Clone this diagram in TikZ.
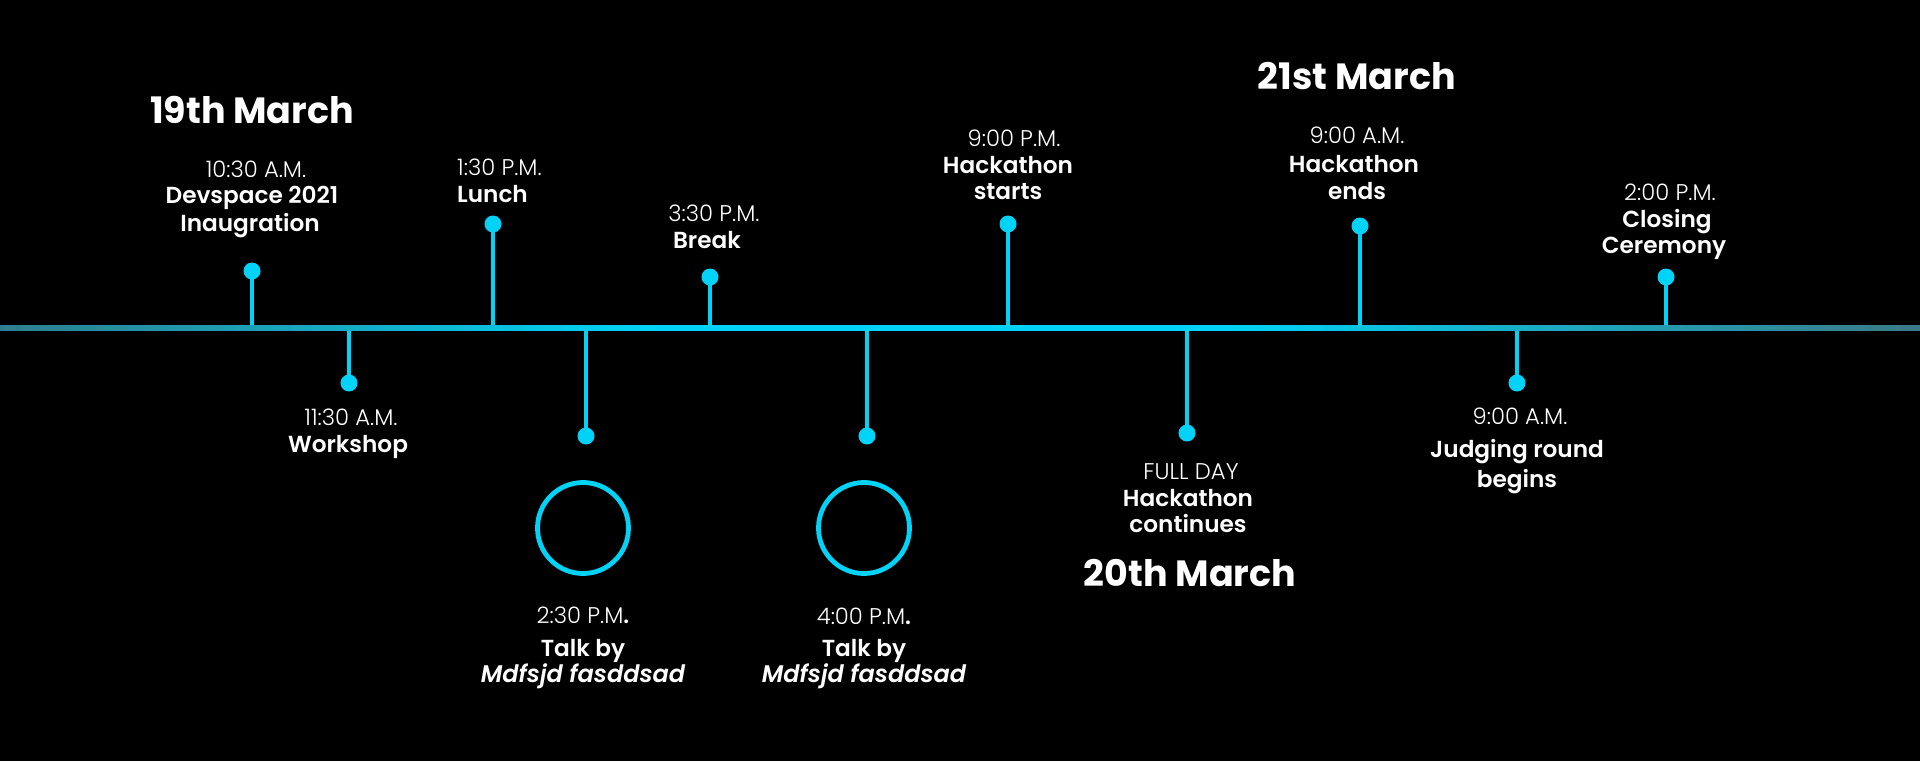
\documentclass[tikz,border=0pt]{standalone}
\usepackage{fontspec}
\newfontfamily\plight{Poppins Light}
\newfontfamily\psemi{Poppins SemiBold}[ItalicFont={Poppins SemiBold Italic}]
\newfontfamily\pbold{Poppins Bold}
\definecolor{cy}{HTML}{00D3F7}
\definecolor{tla}{HTML}{2D7F8E}
\definecolor{tlb}{HTML}{3A7A86}
\pgfdeclarehorizontalshading{tlshade}{100bp}{color(0bp)=(tla); color(25bp)=(tla); color(42bp)=(cy); color(57bp)=(cy); color(75bp)=(tlb); color(100bp)=(tlb)}
\tikzset{
  tm/.style={text=white, font=\plight\fontsize{22.7}{25}\selectfont, anchor=base, inner sep=0pt},
  ttl/.style={text=white, font=\psemi\fontsize{23.2}{26}\selectfont, anchor=base, inner sep=0pt},
  itl/.style={text=white, font=\psemi\itshape\fontsize{24}{26}\selectfont, anchor=base, inner sep=0pt},
  hd/.style={text=white, font=\pbold\fontsize{36.5}{40}\selectfont, anchor=base, inner sep=0pt},
  stemline/.style={draw=cy, line width=4.5pt},
  dotc/.style={circle, fill=cy, minimum size=17pt, inner sep=0pt},
  ring/.style={circle, draw=cy, line width=4.8pt, minimum size=91pt, inner sep=0pt},
}
\begin{document}
\begin{tikzpicture}[x=1pt, y=-1pt]
\fill[black] (0,0) rectangle (1920,761);
\useasboundingbox (0,0) rectangle (1920,761);

% stems (base coordinates on the line)
\coordinate (b1) at (252,328);
\coordinate (b2) at (349,328);
\coordinate (b3) at (493,328);
\coordinate (b4) at (586,328);
\coordinate (b5) at (710,328);
\coordinate (b6) at (867,328);
\coordinate (b7) at (1008,328);
\coordinate (b8) at (1187,328);
\coordinate (b9) at (1360,328);
\coordinate (b10) at (1517,328);
\coordinate (b11) at (1666,328);

\node[dotc] (d1) at (252,271) {};
\node[dotc] (d2) at (349,383) {};
\node[dotc] (d3) at (493,224) {};
\node[dotc] (d4) at (586,436) {};
\node[dotc] (d5) at (710,277) {};
\node[dotc] (d6) at (867,436) {};
\node[dotc] (d7) at (1008,224) {};
\node[dotc] (d8) at (1187,433) {};
\node[dotc] (d9) at (1360,226) {};
\node[dotc] (d10) at (1517,383) {};
\node[dotc] (d11) at (1666,277) {};

\foreach \i in {1,...,11} {\draw[stemline] (b\i) -- (d\i.center);}

% main line
\shade[shading=tlshade] (0,325.5) rectangle (1920,330.5);

% rings
\node[ring] (c1) at (583,528) {};
\node[ring] (c2) at (864,528) {};

% headings
\node[hd] (h19) at (252,123) {19th March};
\node[hd] (h20) at (1190,586) {20th March};
\node[hd] (h21) at (1357,89) {21st March};

% 1 Devspace
\node[tm] (t1) at (256,177) {10:30 A.M.};
\node[ttl] (l1a) at (252,203) {Devspace 2021};
\node[ttl] (l1b) at (250,231) {Inaugration};
% 2 Workshop
\node[tm] (t2) at (351,425) {11:30 A.M.};
\node[ttl] (l2a) at (348,452) {Workshop};
% 3 Lunch
\node[tm, anchor=base west] (t3) at (457,175) {1:30 P.M.};
\node[ttl, anchor=base west] (l3a) at (457,202) {Lunch};
% 4 Talk 1
\node[tm] (t4) at (583,623) {2:30 P.M{\psemi .}};
\node[ttl] (l4a) at (583,656) {Talk by};
\node[itl] (l4b) at (583,682) {Mdfsjd fasddsad};
% 5 Break
\node[tm] (t5) at (714,221) {3:30 P.M.};
\node[ttl] (l5a) at (707,248) {Break};
% 6 Talk 2
\node[tm] (t6) at (864,624) {4:00 P.M{\psemi .}};
\node[ttl] (l6a) at (864,656) {Talk by};
\node[itl] (l6b) at (864,682) {Mdfsjd fasddsad};
% 7 Hackathon starts
\node[tm] (t7) at (1014,146) {9:00 P.M.};
\node[ttl] (l7a) at (1008,173) {Hackathon};
\node[ttl] (l7b) at (1008,199) {starts};
% 8 Hackathon continues
\node[tm] (t8) at (1191,479) {FULL DAY};
\node[ttl] (l8a) at (1188,506) {Hackathon};
\node[ttl] (l8b) at (1188,532) {continues};
% 9 Hackathon ends
\node[tm] (t9) at (1357,143) {9:00 A.M.};
\node[ttl] (l9a) at (1354,172) {Hackathon};
\node[ttl] (l9b) at (1357,199) {ends};
% 10 Judging
\node[tm] (t10) at (1520,424) {9:00 A.M.};
\node[ttl] (l10a) at (1517,457) {Judging round};
\node[ttl] (l10b) at (1517,487) {begins};
% 11 Closing
\node[tm] (t11) at (1670,200) {2:00 P.M.};
\node[ttl] (l11a) at (1667,227) {Closing};
\node[ttl] (l11b) at (1664,253) {Ceremony};
\end{tikzpicture}
\end{document}
